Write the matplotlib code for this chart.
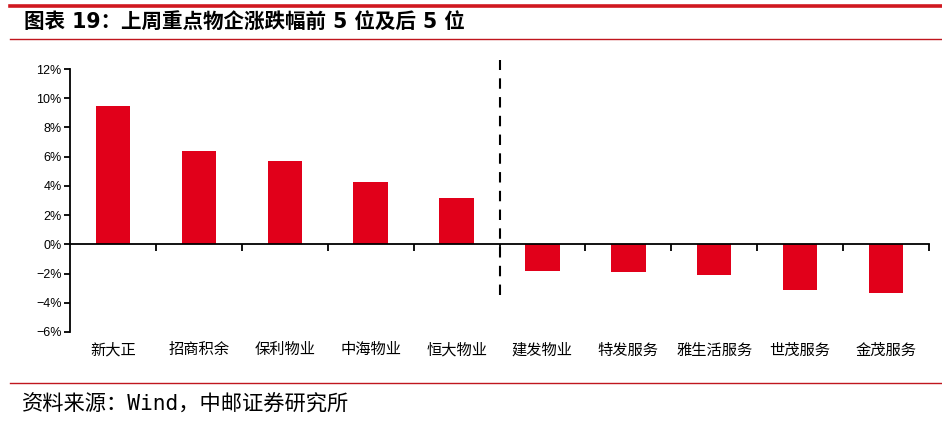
import matplotlib
matplotlib.use('Agg')
import matplotlib.pyplot as plt
from matplotlib.ticker import FuncFormatter, FixedLocator
from matplotlib.lines import Line2D

plt.rcParams['font.family'] = ['Noto Sans CJK SC', 'DejaVu Sans']
plt.rcParams['axes.unicode_minus'] = True

# data
names = ['新大正', '招商积余', '保利物业', '中海物业', '恒大物业',
         '建发物业', '特发服务', '雅生活服务', '世茂服务', '金茂服务']
changes = [9.45, 6.37, 5.68, 4.25, 3.15, -1.85, -1.92, -2.12, -3.15, -3.33]
y_ticks = [-6, -4, -2, 0, 2, 4, 6, 8, 10, 12]

title = '图表 19：上周重点物企涨跌幅前 5 位及后 5 位'
source = '资料来源：Wind，中邮证券研究所'

red = '#E1001A'
line_red = '#C0161E'

fig = plt.figure(figsize=(9.42, 4.28), dpi=100)

# header / footer decoration
fig.add_artist(Line2D([10/942, 1], [1 - 5.5/428] * 2, color='#D01820', lw=2.6))
fig.add_artist(Line2D([10/942, 1], [1 - 39/428] * 2, color=line_red, lw=1.0))
fig.add_artist(Line2D([10/942, 1], [1 - 383/428] * 2, color=line_red, lw=1.0))
fig.text(24/942, 1 - 22/428, title, fontsize=14.8, fontweight='bold',
         va='center', ha='left', family=['DejaVu Sans', 'Noto Sans CJK SC'])
fig.text(22/942, 1 - 405/428, source, fontsize=15.3, va='center', ha='left',
         family=['DejaVu Sans Mono', 'Noto Sans CJK SC'])

ax = fig.add_axes([70/942, 1 - 332/428, 859/942, 263/428])
x = range(len(names))
ax.bar(x, changes, width=0.4, color=red, zorder=2)

ax.set_xlim(-0.5, len(names) - 0.5)
ax.set_ylim(-6, 12)
ax.yaxis.set_major_locator(FixedLocator(y_ticks))
ax.yaxis.set_major_formatter(FuncFormatter(lambda v, p: f'{v:.0f}%'.replace('-', '\u2212')))

for s in ['top', 'right']:
    ax.spines[s].set_visible(False)
ax.spines['bottom'].set_position(('data', 0))
ax.spines['bottom'].set_linewidth(1.3)
ax.spines['left'].set_linewidth(1.3)

ax.set_xticks([i + 0.5 for i in range(len(names))])
ax.set_xticklabels([])
ax.tick_params(axis='x', direction='out', length=5, width=1.3)
ax.tick_params(axis='y', direction='out', length=4, width=1.3, labelsize=9, pad=2)
for lab in ax.get_yticklabels():
    lab.set_family(['Liberation Sans', 'DejaVu Sans'])

for i, n in enumerate(names):
    ax.text(i, -0.068, n, transform=ax.get_xaxis_transform(), ha='center',
            va='center', fontsize=11)

# divider between top 5 and bottom 5
ax.plot([4.5, 4.5], [-3.5, 12.6], color='black', lw=1.5, ls=(0, (5, 4)),
        clip_on=False, zorder=3)

fig.savefig('out.png', dpi=100)
